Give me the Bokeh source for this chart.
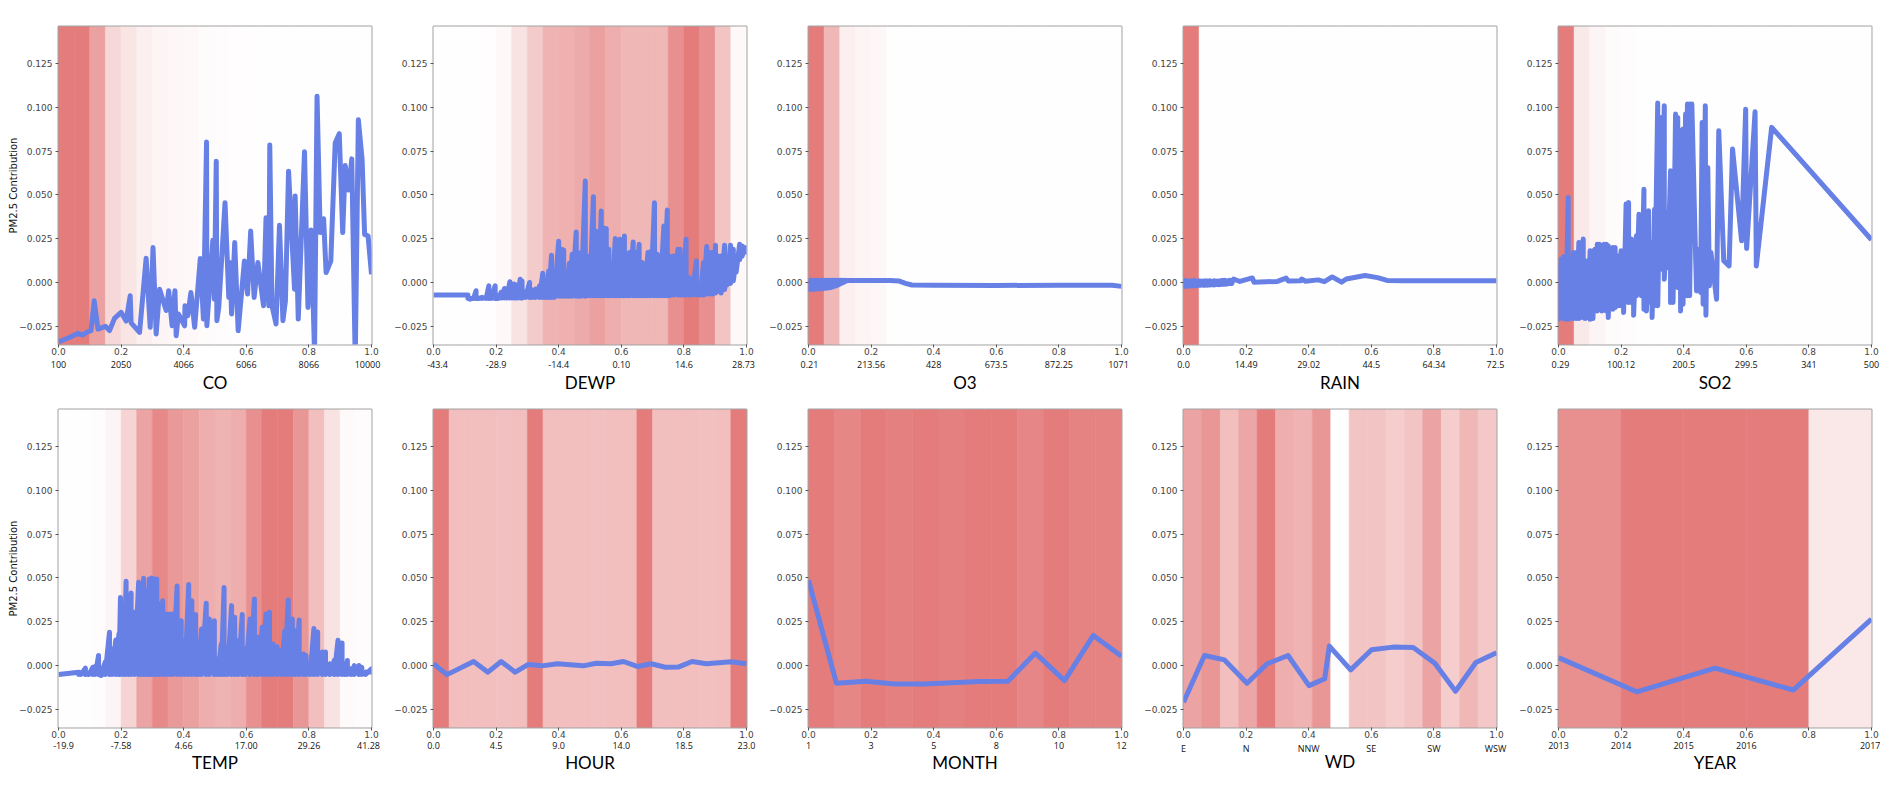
from bokeh.embed import file_html
from bokeh.layouts import column, row
from bokeh.models import ColumnDataSource, FixedTicker, LinearAxis, Range1d
from bokeh.plotting import figure
from bokeh.resources import INLINE
import numpy as np

# shared axes
x_ticks = [0.0, 0.2, 0.4, 0.6, 0.8, 1.0]
x_tick_labels = ["0.0", "0.2", "0.4", "0.6", "0.8", "1.0"]
y_ticks = [-0.025, 0.0, 0.025, 0.05, 0.075, 0.1, 0.125]
y_tick_labels = ["\u22120.025", "0.000", "0.025", "0.050", "0.075", "0.100", "0.125"]

# second row of x labels, feature values
co_labels = ["100", "2050", "4066", "6066", "8066", "10000"]
dewp_labels = ["-43.4", "-28.9", "-14.4", "0.10", "14.6", "28.73"]
o3_labels = ["0.21", "213.56", "428", "673.5", "872.25", "1071"]
rain_labels = ["0.0", "14.49", "29.02", "44.5", "64.34", "72.5"]
so2_labels = ["0.29", "100.12", "200.5", "299.5", "341", "500"]
temp_labels = ["-19.9", "-7.58", "4.66", "17.00", "29.26", "41.28"]
hour_labels = ["0.0", "4.5", "9.0", "14.0", "18.5", "23.0"]
month_labels = ["1", "3", "5", "8", "10", "12"]
wd_labels = ["E", "N", "NNW", "SE", "SW", "WSW"]
year_labels = ["2013", "2014", "2015", "2016", "", "2017"]

# shading of the background bins (share of the strongest bin)
co_bins = [1, 1, .72, .3, .2, .12, .08, .06, .05, .03, .02, .015, .01, .01, .01, .01, .01, .01, .01, .01]
dewp_bins = [.01, .01, .01, .015, .05, .22, .4, .58, .6, .65, .72, .62, .55, .55, .55, .85, 1, .85, .45, .05]
o3_bins = [1, .55, .12, .08, .06, .01, .01, .01, .01, .01, .01, .01, .01, .01, .01, .01, .01, .01, .01, .01]
rain_bins = [1, .01, .01, .01, .01, .01, .01, .01, .01, .01, .01, .01, .01, .01, .01, .01, .01, .01, .01, .01]
so2_bins = [1, .17, .08, .03, .02, .01, .01, .01, .01, .01, .01, .01, .01, .01, .01, .01, .01, .01, .01, .01]
temp_bins = [.01, .01, .02, .08, .33, .7, .9, .78, .72, .62, .58, .62, .85, 1, 1, .8, .5, .22, .04, .02]
hour_bins = [1, .5, .5, .5, .48, .5, 1, .5, .5, .5, .48, .5, .5, 1, .5, .5, .5, .48, .5, 1]
month_bins = [1, .92, 1, .97, 1, .97, 1, 1, .92, 1, .95, .95]
wd_bins = [.7, .8, .5, .68, 1, .62, .58, .8, .01, .45, .45, .38, .45, .7, .38, .55, .42]
year_bins = [.85, 1, 1, 1, .18]

# CO
co_x = [0, .04, .062, .078, .094, .104, .114, .126, .15, .163, .179, .2, .216, .229, .232, .259, .28, .293, .302, .312,
        .323, .344, .352, .363, .372, .376, .383, .403, .404, .413, .423, .435, .453, .463, .473, .474, .493, .498, .504, .506,
        .512, .532, .544, .548, .553, .563, .574, .594, .604, .614, .625, .637, .655, .663, .672, .675, .682, .695, .706, .717,
        .725, .735, .754, .756, .766, .786, .797, .807, .818, .826, .836, .847, .855, .87, .884, .897, .908, .916, .927, .937,
        .948, .958, .97, .978, .989, 1]
co_y = [-.034, -.031, -.029, -.03, -.028, -.0275, -.0104, -.0266, -.025, -.0275, -.0205, -.017, -.022, -.0076, -.023, -.0285, .0139, -.0256, .02, -.0294,
        -.0038, -.016, -.0047, -.0247, -.0047, -.0304, -.018, -.0247, -.0133, -.019, -.0057, -.0256, .0137, -.0209, .0802, -.0247, .0241, -.0095, .0693, -.0218,
        -.0142, .0456, -.0085, .0114, -.018, .0228, -.0275, .0123, -.0066, .0294, -.0085, .0114, -.0133, .037, -.0133, .0785, -.0133, -.0237, .0327, -.0218,
        -.0104, .0636, -.0038, .0494, -.0209, .0747, -.0142, .03, -.04, .1064, .0285, .0364, .0057, .0123, .0797, .085, .0285, .0668, .0528, .0706,
        -.045, .093, .0702, .0275, .0266, .0047]

# DEWP
dewp_x = [.11, .117, .128, .136, .145, .155, .168, .177, .185, .197,
          .206, .216, .227, .234, .244, .251, .259, .266, .277, .283,
          .294, .307, .315, .326, .339, .349, .358, .368, .377, .386,
          .4, .409, .416, .426, .434, .443, .456, .463, .472, .485,
          .492, .499, .511, .519, .527, .536, .543, .552, .56, .569,
          .581, .589, .596, .605, .61, .619, .626, .638, .647, .657,
          .667, .675, .685, .694, .706, .715, .724, .736, .747, .754,
          .767, .781, .788, .797, .807, .816, .826, .84, .852, .863,
          .873, .884, .892, .901, .909, .919, .93, .937, .949, .958,
          .967, .978, .986, .995]
dewp_top = [-.0072, -.0095, -.0091, -.0047, -.0091, -.0085, -.0085, -.0019, -.0085, -.0019,
            -.0091, -.0057, -.0034, -.0047, .0004, -.0009, -.0009, -.0053, .0019, .0009,
            -.0053, 0, -.0042, -.0038, -.0019, .0053, 0, .0066, .0156, .0042,
            .0235, .019, .0186, .0057, .011, .0161, .0289, .0171, .0095, .0579,
            .0152, .0142, .049, .0294, .019, .0408, .0313, .0308, .019, .0085,
            .0251, .0076, .0247, .019, .0266, .0076, .0171, .0232, .0171, .0218,
            .0114, .0076, .0171, .0175, .0456, .0161, .0152, .0323, .0414, .0152,
            .0152, .019, .019, .0076, .0247, .0028, .0019, .0123, -.0009, .0114,
            .0205, .0171, .0171, .0213, .0152, .0152, .0213, .0076, .0213, .019,
            .0133, .0218, .0209, .0199]
dewp_low = [-.0091] * 10 + [-.0089] * 10 + [-.0085] * 10 + [-.0078] * 10 + [-.0076] * 30 + [-.0072] * 10 + \
           [-.0066, -.0066, -.0066, -.006, -.005, -.006, -.004, -.0015, -.0005, .001, .006, .013, .015, .016]

# O3
o3_x = [0, .006, .012, .018, .024, .03, .036, .042, .048, .054, .06, .066, .072, .078, .084, .09, .096, .102, .108, .114, .12]
o3_top = [.0012, .0012, .0012, .0012, .0012, .0012, .0012, .0012, .0012, .0012, .0012, .0012, .0012, .0012, .0012, .0012, .0012, .0012, .0012, .0012, .0012]
o3_low = [-.0038, -.0038, -.0038, -.0038, -.0037, -.0036, -.0036, -.0035, -.0034, -.0033, -.0032, -.003, -.0028, -.0025, -.0022, -.0018, -.0013, -.0008, -.0003, .0003, .0008]
o3_tail_x = [.13, .26, .29, .31, .33, .4, .6, .8, .97, 1]
o3_tail_y = [.0012, .0012, .0008, -.0005, -.0014, -.0015, -.0017, -.0015, -.0016, -.0022]

# RAIN
rain_x = [0, .007, .014, .021, .028, .035, .042, .049, .056, .063, .07, .077, .084, .091, .098, .105, .112, .119, .126, .133, .14, .147, .154]
rain_top = [.0006, .0012, .0006, .001, .0008, .0012, .0006, .001, .0008, .0008, .001, .0008, .001, .0006, .001, .0008, .0008, .001, .0012, .0012, .001, .0012, .0012]
rain_low = [-.0022, -.0022, -.002, -.002, -.0018, -.0018, -.0018, -.0016, -.0015, -.0016, -.0015, -.0015, -.0014, -.0013, -.0014, -.0012, -.0013, -.0012, -.001, -.001, -.0008, -.0006, -.0006]
rain_tail_x = [.16, .18, .22, .225, .3, .328, .335, .375, .377, .39, .43, .45, .475, .505, .52, .58, .62, .65, .7, 1]
rain_tail_y = [.002, .0006, .0026, .0002, .0006, .0025, .0008, .001, .002, .0007, .0015, .0005, .0032, .0002, .002, .004, .0028, .0012, .001, .001]

# SO2
so2_x = [0, .0075, .016, .0235, .031, .039, .048, .057, .065, .072,
         .079, .085, .094, .101, .11, .117, .124, .131, .139, .146,
         .153, .159, .166, .174, .181, .19, .2, .208, .216, .224,
         .233, .24, .249, .257, .265, .273, .281, .288, .299, .307,
         .317, .328, .338, .349, .358, .366, .374, .381, .39, .398,
         .406, .412, .419]
so2_top = [.0105, .0133, .0147, .0147, .0486, .0133, .0171, .0171, .0229, .0229,
           .0248, .0124, .0124, .0181, .0181, .019, .0219, .0219, .021, .0219,
           .0219, .021, .0152, .02, .02, .0152, .0181, .0133, .0448, .0457,
           .0248, .0152, .0267, .039, .0381, .0533, .0305, .041, .0229, .0419,
           .1025, .0943, .101, .04, .0638, .04, .0962, .0943, .0867, .0876,
           .0962, .1019, .1019]
so2_low = [-.021, -.02, -.0206, -.021, -.021, -.0206, -.0206, -.0206, -.0206, -.02,
           -.02, -.0206, -.02, -.021, -.0206, -.0162, -.0162, -.0152, -.0162, -.0152,
           -.0162, -.02, -.0152, -.0152, -.0143, -.0133, -.0133, -.0171, -.0076, -.0114,
           -.0114, -.0187, -.0076, -.001, -.0076, -.0152, -.0162, -.0114, -.02, -.0133,
           -.0133, .0076, .0019, .0086, -.0114, -.0114, -.0019, -.0029, -.0162, -.0124,
           -.0038, -.0076, -.0076]
so2_tail_x = [.426, .436, .441, .45, .454, .459, .462, .469, .471, .477, .482, .487, .505, .512, .528, .545, .556, .585, .598, .601, .628, .632, .681, 1]
so2_tail_y = [.1019, .0286, -.0048, .019, -.0057, .0914, -.0124, .101, -.0187, .0657, -.0019, .0171, -.0095, .0867, .0124, .0095, .0762, .0238, .099, .0194, .0975, .0095, .0886, .0244]

# TEMP
temp_x = [.065, .072, .086, .097, .11, .118, .128, .136, .149, .163,
          .171, .183, .193, .198, .208, .216, .225, .232, .243, .256,
          .264, .272, .281, .29, .298, .307, .314, .323, .333, .344,
          .355, .365, .379, .392, .404, .416, .426, .438, .446, .457,
          .472, .482, .498, .509, .52, .529, .54, .553, .563, .574,
          .587, .597, .612, .626, .637, .651, .663, .674, .685, .698,
          .711, .723, .734, .747, .757, .769, .783, .791, .804, .816,
          .828, .843, .853, .867, .881, .893, .906, .915, .923, .935,
          .945, .96, .969, .981, 1]
temp_top = [-.0038, -.0047, -.0015, -.0047, -.001, -.0004, .0057, -.0057, .0019, .019,
            .0095, .0146, .018, .0389, .0218, .0481, .0294, .0414, .0304, .0475,
            .0427, .0498, .0427, .0494, .05, .0494, .0494, .0351, .037, .0294,
            .0294, .0294, .0454, .0256, .0142, .0462, .037, .0291, .0028, .0209,
            .0355, .0266, .0256, .0038, .0123, .0446, .0104, .0342, .0275, .0142,
            .0291, .0095, .0266, .038, .0161, .0218, .0294, .0304, .0123, .0108,
            .0085, .0199, .0374, .0266, .0199, .026, .0066, .0057, .001, .0212,
            .0192, .0077, .0077, .001, .0029, .0144, .0129, -.001, .0029, -.0019,
            0, 0, -.001, -.0038, -.0019]
temp_floor = -0.0051

# the four sparse series
hour_x = [0, .043, .128, .174, .216, .261, .303, .347, .396, .478, .52, .567, .607, .653, .695, .741, .784, .826, .872, .95, 1]
hour_y = [.001, -.0052, .0023, -.0038, .0023, -.0038, .0006, -.0002, .001, -.0002, .0013, .001, .0023, -.0006, .001, -.001, -.0008, .0023, .001, .0021, .001]
month_x = [0, .089, .183, .275, .369, .458, .544, .637, .725, .818, .91, 1]
month_y = [.0487, -.0101, -.009, -.0105, -.0105, -.0099, -.0092, -.009, .0071, -.0086, .0172, .0053]
wd_x = [0, .067, .131, .203, .267, .334, .401, .451, .466, .534, .601, .669, .734, .803, .869, .934, 1]
wd_y = [-.021, .0057, .0032, -.0101, .001, .0057, -.0115, -.0076, .0111, -.0025, .009, .0105, .0103, .0013, -.0147, .0017, .0073]
year_x = [0, .25, .5, .75, 1]
year_y = [.0045, -.015, -.0015, -.014, .0265]

RED = (228, 124, 124)
BLUE = "#6780E5"
Y_MIN, Y_MAX = -0.0354, 0.1462
FRAME_W = 313


def zigzag(xs, tops, lows):
    # dense series swing between an upper and a lower read-off at each x
    lows = np.broadcast_to(lows, (len(xs),))
    return list(np.repeat(xs, 2)), list(np.column_stack([tops, lows]).ravel())


def shade(w):
    # opaque blend on white, adjacent bins then show no seam
    return "#%02x%02x%02x" % tuple(round(255 - (255 - c) * w) for c in RED)


def panel(name, labels, bins, line_x, line_y, first_col=False, right=11, top=26,
          nudge=(0, 0), title_off=0, second_off=0):
    p = figure(frame_width=FRAME_W, frame_height=318, output_backend="svg", toolbar_location=None,
               x_range=Range1d(0, 1), y_range=Range1d(Y_MIN, Y_MAX),
               min_border_left=58 if first_col else 51, min_border_right=right,
               min_border_top=top, min_border_bottom=54,
               outline_line_color="#a4a4a4", outline_line_width=2)
    p.grid.visible = False

    edges = np.linspace(0, 1, len(bins) + 1)
    colors = [shade(w) for w in bins]
    src = ColumnDataSource(dict(left=edges[:-1], right=edges[1:], color=colors))
    p.quad(left="left", right="right", bottom=Y_MIN, top=Y_MAX, source=src,
           fill_color="color", line_color="color", line_width=0.6)
    p.line(line_x, line_y, line_color=BLUE, line_width=5, line_join="round")

    xa = p.xaxis[0]
    xa.ticker = FixedTicker(ticks=x_ticks)
    xa.major_label_overrides = dict(zip(x_ticks, x_tick_labels))
    xa.major_label_text_font = "DejaVu Sans"
    xa.major_label_text_font_size = "9px"
    xa.major_label_text_color = "#444444"
    xa.major_label_standoff = 0
    xa.major_tick_in = 0
    xa.major_tick_out = 3
    xa.minor_tick_line_color = None
    xa.axis_line_color = None
    xa.major_tick_line_color = "#555555"

    ya = p.yaxis[0]
    ya.ticker = FixedTicker(ticks=y_ticks)
    ya.major_label_overrides = dict(zip(y_ticks, y_tick_labels))
    ya.major_label_text_font = "DejaVu Sans"
    ya.major_label_text_font_size = "9px"
    ya.major_label_text_color = "#444444"
    ya.major_label_standoff = 3
    ya.major_tick_in = 0
    ya.major_tick_out = 3
    ya.minor_tick_line_color = None
    ya.axis_line_color = None
    ya.major_tick_line_color = "#555555"
    if first_col:
        ya.axis_label = "PM2.5 Contribution"
        ya.axis_label_text_font = "DejaVu Sans"
        ya.axis_label_text_font_size = "10px"
        ya.axis_label_text_font_style = "normal"
        ya.axis_label_text_color = "#111111"
        ya.axis_label_standoff = -3

    # feature values and the name under the 0-1 axis
    ticks2 = list(x_ticks)
    ticks2[0] += nudge[0] / FRAME_W
    ticks2[-1] += nudge[1] / FRAME_W
    second = LinearAxis(ticker=FixedTicker(ticks=ticks2),
                        major_label_overrides=dict(zip(ticks2, labels)),
                        major_label_text_font="Open Sans", major_label_text_font_size="9px",
                        major_label_text_color="#111111", major_label_standoff=1 + second_off,
                        major_tick_in=0, major_tick_out=0,
                        major_tick_line_color=None, minor_tick_line_color=None, axis_line_color=None,
                        axis_label=name, axis_label_text_font="Lato", axis_label_text_font_size="17px",
                        axis_label_text_font_style="normal", axis_label_text_color="#000000",
                        axis_label_standoff=0 + title_off)
    p.add_layout(second, "below")
    return p


top_row = row(
    panel("CO", co_labels, co_bins, co_x, co_y, first_col=True, nudge=(0, -4), second_off=2, title_off=1),
    panel("DEWP", dewp_labels, dewp_bins,
          [0] + zigzag(dewp_x, dewp_top, dewp_low)[0], [-.0072] + zigzag(dewp_x, dewp_top, dewp_low)[1],
          nudge=(4, -3), second_off=2, title_off=1),
    panel("O3", o3_labels, o3_bins,
          zigzag(o3_x, o3_top, o3_low)[0] + o3_tail_x, zigzag(o3_x, o3_top, o3_low)[1] + o3_tail_y,
          nudge=(1, -3), second_off=2, title_off=1),
    panel("RAIN", rain_labels, rain_bins,
          zigzag(rain_x, rain_top, rain_low)[0] + rain_tail_x, zigzag(rain_x, rain_top, rain_low)[1] + rain_tail_y,
          nudge=(0, -1), second_off=2, title_off=1),
    panel("SO2", so2_labels, so2_bins,
          zigzag(so2_x, so2_top, so2_low)[0] + so2_tail_x, zigzag(so2_x, so2_top, so2_low)[1] + so2_tail_y,
          right=9, nudge=(2, 0), second_off=2, title_off=1),
)
bottom_row = row(
    panel("TEMP", temp_labels, temp_bins,
          [0] + zigzag(temp_x, temp_top, temp_floor)[0], [temp_floor] + zigzag(temp_x, temp_top, temp_floor)[1],
          first_col=True, top=11, nudge=(5, -3)),
    panel("HOUR", hour_labels, hour_bins, hour_x, hour_y, top=11),
    panel("MONTH", month_labels, month_bins, month_x, month_y, top=11),
    panel("WD", wd_labels, wd_bins, wd_x, wd_y, top=11, nudge=(0, -1), title_off=-7),
    panel("YEAR", year_labels, year_bins, year_x, year_y, right=9, top=11),
)

page = column(top_row, bottom_row)
open("out.html", "w").write(file_html(page, INLINE))
